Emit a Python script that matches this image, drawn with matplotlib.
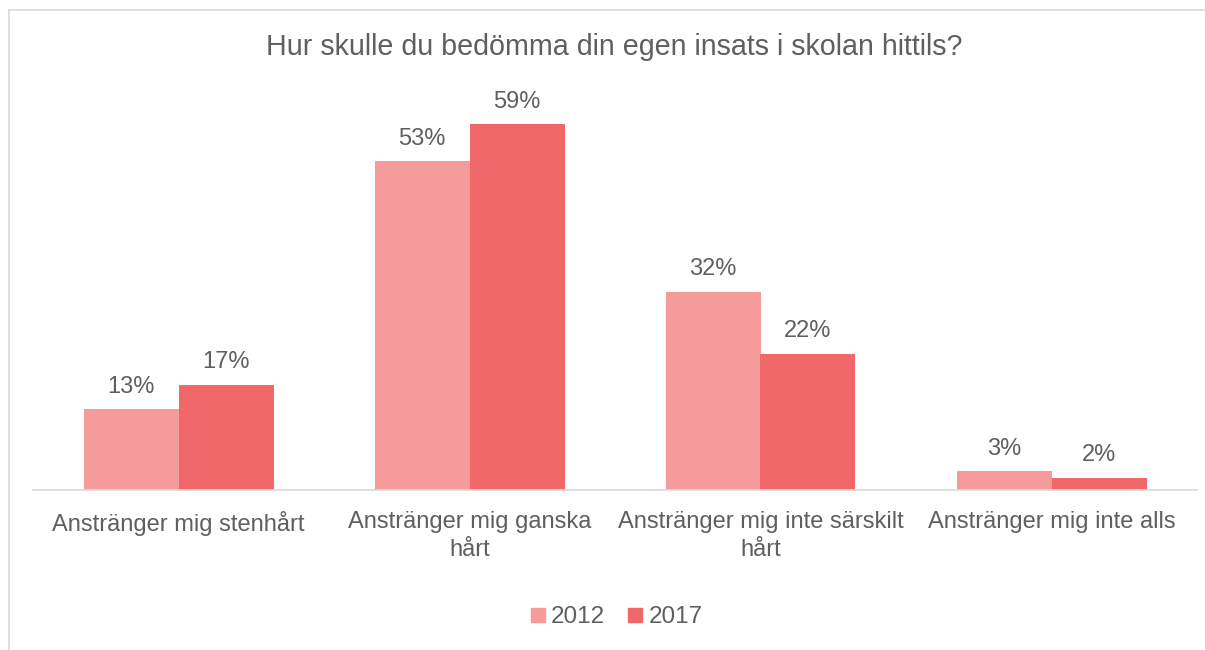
import matplotlib.pyplot as plt
import numpy as np
from matplotlib.lines import Line2D

plt.rcParams['font.family'] = ['Liberation Sans', 'DejaVu Sans']

categories = ['Anstränger mig stenhårt', 'Anstränger mig ganska\nhårt',
              'Anstränger mig inte särskilt\nhårt', 'Anstränger mig inte alls']
series = ['2012', '2017']
values_2012 = [13, 53, 32, 3]
values_2017 = [17, 59, 22, 2]
colors = ['#F59B9B', '#F0686A']
text_gray = '#5F5F5F'

fig = plt.figure(figsize=(12.05, 6.5), dpi=100)
ax = fig.add_axes([33 / 1205, 160 / 650, 1164 / 1205, 434 / 650])

x = np.arange(len(categories))
w = 95 / 291
b1 = ax.bar(x - w / 2, values_2012, w, color=colors[0], label=series[0])
b2 = ax.bar(x + w / 2, values_2017, w, color=colors[1], label=series[1])

for bars, vals in [(b1, values_2012), (b2, values_2017)]:
    for r, v in zip(bars, vals):
        ax.annotate(f'{v}%', (r.get_x() + r.get_width() / 2, v), xytext=(0, 8),
                    textcoords='offset points', ha='center', va='bottom',
                    fontsize=17, color=text_gray)

ax.set_xlim(-0.5, len(categories) - 0.5)
ax.set_ylim(0, 70)
ax.set_xticks(x)
ax.set_xticklabels(categories, fontsize=17, color=text_gray, linespacing=1.35)
ax.tick_params(axis='x', length=0, pad=15)
ax.set_yticks([])
for s in ['top', 'right', 'left']:
    ax.spines[s].set_visible(False)
ax.spines['bottom'].set_color('#D9D9D9')
ax.spines['bottom'].set_linewidth(1.2)

fig.text(614 / 1205, 1 - 47 / 650, 'Hur skulle du bedömma din egen insats i skolan hittils?',
         ha='center', va='center', fontsize=20.6, color=text_gray)

handles = [Line2D([], [], marker='s', linestyle='', markersize=10.5,
                  markerfacecolor=c, markeredgecolor=c) for c in colors]
fig.legend(handles, series, loc='center', bbox_to_anchor=(616 / 1205, 1 - 617 / 650),
           ncol=2, frameon=False, fontsize=17.5, handlelength=0.7, handletextpad=0.2,
           columnspacing=0.9, labelcolor=text_gray)

# chart area border (top and left visible)
fig.add_artist(Line2D([9 / 1205, 1], [1 - 10 / 650, 1 - 10 / 650], color='#D9D9D9', lw=1.2))
fig.add_artist(Line2D([9 / 1205, 9 / 1205], [1 - 10 / 650, 0], color='#D9D9D9', lw=1.2))

fig.savefig('out.png', dpi=100)
